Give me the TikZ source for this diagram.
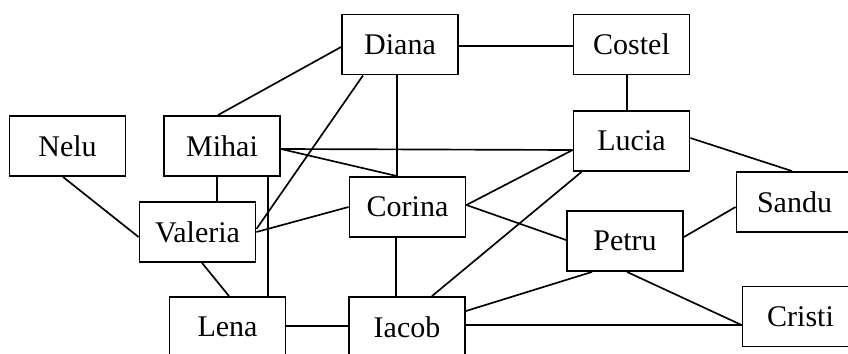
\documentclass[tikz,border=0pt]{standalone}
\usepackage{fontspec}
\setmainfont{Liberation Serif}
\usetikzlibrary{calc}
\begin{document}
\begin{tikzpicture}[x=0.75pt,y=-0.75pt,
  person/.style={draw,line width=1.4pt,minimum width=87pt,minimum height=45pt,
    inner sep=0pt,font=\fontsize{22.5}{26}\selectfont},
  link/.style={line width=1.25pt}]
\clip (0,0) rectangle (848,353);
\useasboundingbox (0,0) rectangle (848,353);
\fill[white] (0,0) rectangle (848,353);

% people
\node[person] (diana)   at (400,44.5)  {Diana};
\node[person] (costel)  at (631.5,44.5){Costel};
\node[person] (lucia)   at (631.5,141) {Lucia};
\node[person] (nelu)    at (67.5,146)  {Nelu};
\node[person] (mihai)   at (222,146)   {Mihai};
\node[person] (valeria) at (197.5,232) {Valeria};
\node[person] (corina)  at (407.5,207) {Corina};
\node[person] (petru)   at (625,241)   {Petru};
\node[person] (sandu)   at (794.5,202) {Sandu};
\node[person] (lena)    at (227.5,327) {Lena};
\node[person] (iacob)   at (407,327)   {Iacob};
\node[person] (cristi)  at (800.5,316.5){Cristi};

% relations
\draw[link] ($(diana.east)+(0,1.5)$) -- ($(costel.west)+(0,1.5)$);
\draw[link] ($(costel.south)+(-4.5,0)$) -- ($(lucia.north)+(-4.5,0)$);
\draw[link] ($(diana.west)+(0,2.5)$) -- ($(mihai.north)+(-4,0)$);
\draw[link] ($(diana.south)+(-37,0)$) -- ($(valeria.east)+(0,-3)$);
\draw[link] (corina.west) -- (valeria.east);
\draw[link] ($(diana.south)+(-3,0)$) -- ($(corina.north)+(-10.5,0)$);
\draw[link] ($(mihai.east)+(0,3)$) -- ($(lucia.west)+(0,9)$);
\draw[link] ($(mihai.east)+(0,3)$) -- ($(corina.north)+(-10.5,0)$);
\draw[link] ($(mihai.south)+(-5,0)$) -- ($(valeria.north)+(19.5,0)$);
\draw[link] ($(mihai.south)+(46,0)$) -- ($(lena.north)+(40.5,0)$);
\draw[link] ($(nelu.south)+(-4.5,0)$) -- ($(valeria.west)+(0,5)$);
\draw[link] ($(valeria.south)+(4.5,0)$) -- ($(lena.north)+(1.5,0)$);
\draw[link] ($(lena.east)+(0,-1)$) -- ($(iacob.west)+(0,-1)$);
\draw[link] ($(corina.south)+(-11.5,0)$) -- ($(iacob.north)+(-11,0)$);
\draw[link] ($(iacob.north)+(25,0)$) -- ($(lucia.south)+(-50,0)$);
\draw[link] ($(corina.east)+(0,-2)$) -- ($(lucia.west)+(0,9)$);
\draw[link] ($(corina.east)+(0,-2)$) -- ($(petru.west)+(0,-1)$);
\draw[link] ($(lucia.east)+(0,-3)$) -- ($(sandu.north)+(-2.5,0)$);
\draw[link] ($(petru.east)+(0,-4)$) -- ($(sandu.west)+(0,5)$);
\draw[link] ($(iacob.east)+(0,-16)$) -- ($(petru.south)+(-33,0)$);
\draw[link] ($(petru.south)+(2,0)$) -- ($(cristi.west)+(0,8.5)$);
\draw[link] ($(iacob.east)+(0,-2)$) -- ($(cristi.west)+(0,8.5)$);
\end{tikzpicture}
\end{document}
